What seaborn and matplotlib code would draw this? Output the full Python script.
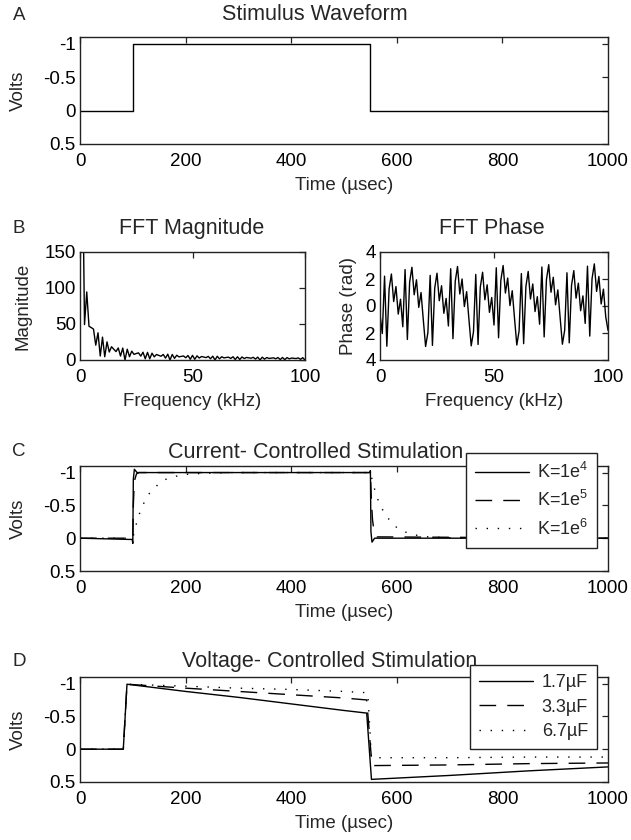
import numpy as np
import pandas as pd
import matplotlib
matplotlib.use("Agg")
import matplotlib.pyplot as plt
import seaborn as sns

# ---- data ----
# A: stimulus waveform (Volts vs usec)
stim_t = [0, 100, 100, 550, 550, 1000]
stim_v = [0, 0, -1, -1, 0, 0]

# B: FFT magnitude / phase, 1 kHz bins
freq_mag = list(range(1, 101))
fft_mag = [314.5, 49.2, 94.5, 46.8, 45.0, 42.9, 20.6, 37.8, 5.5, 31.8,
           4.5, 25.2, 11.1, 18.4, 15.0, 11.7, 16.7, 5.5, 16.6, 0.0,
           15.0, 4.5, 12.3, 7.8, 9.0, 9.9, 5.4, 10.8, 1.7, 10.6,
           1.6, 9.5, 4.4, 7.6, 6.4, 5.2, 7.7, 2.6, 8.1, 0.0,
           7.7, 2.3, 6.6, 4.3, 5.0, 5.6, 3.1, 6.3, 1.0, 6.4,
           1.0, 5.8, 2.7, 4.8, 4.1, 3.3, 5.0, 1.7, 5.3, 0.0,
           5.2, 1.6, 4.5, 2.9, 3.5, 3.9, 2.2, 4.5, 0.7, 4.5,
           0.7, 4.2, 2.0, 3.5, 3.0, 2.5, 3.7, 1.3, 4.0, 0.0,
           3.9, 1.2, 3.4, 2.2, 2.6, 3.0, 1.7, 3.4, 0.6, 3.5,
           0.5, 3.3, 1.6, 2.7, 2.4, 2.0, 2.9, 1.0, 3.2, 0.0]
freq_ph = list(range(0, 101))
fft_phase = [-0.6,
             -2.04, 2.21, -2.98, 1.27, 2.37, 0.33, 1.44, -0.60, 0.50, -1.54,
             2.70, -2.48, 1.77, 2.87, 0.83, 1.94, -0.10, 1.00, -1.04, -3.00,
             -1.98, 2.27, -2.92, 1.33, 2.43, 0.39, 1.50, -0.54, 0.56, -1.48,
             2.76, -2.42, 1.83, 2.93, 0.89, 2.00, -0.04, 1.06, -0.98, -2.95,
             -1.91, 2.34, -2.85, 1.40, 2.50, 0.46, 1.57, -0.47, 0.63, -1.41,
             2.83, -2.35, 1.90, 3.00, 0.96, 2.07, 0.03, 1.13, -0.91, -2.89,
             -1.85, 2.40, -2.79, 1.46, 2.56, 0.52, 1.63, -0.41, 0.69, -1.35,
             2.89, -2.29, 1.96, 3.06, 1.02, 2.13, 0.09, 1.19, -0.85, -2.83,
             -1.79, 2.46, -2.73, 1.52, 2.62, 0.58, 1.69, -0.35, 0.75, -1.29,
             2.95, -2.23, 2.02, 3.12, 1.08, 2.19, 0.15, 1.25, -0.79, -1.80]

# C: current controlled
k4_t = [0, 99, 100, 101, 103, 108, 549, 550, 551, 553, 558, 1000]
k4_v = [0, 0.02, 0.08, -0.9, -1.05, -1.0, -1.0, -1.03, -0.1, 0.06, 0.0, 0.0]
k5_t = [0, 100, 101, 102, 104, 107, 112, 550, 552, 554, 557, 562, 1000]
k5_v = [0, 0, -0.5, -0.7, -0.9, -0.98, -1.0, -1.0, -0.55, -0.28, -0.1, -0.02, 0]
k6_t = [0, 100, 105, 110, 115, 120, 130, 140, 150, 160, 175, 190, 210, 240, 280,
        550, 555, 560, 565, 570, 580, 590, 600, 610, 625, 640, 660, 690, 730, 1000]
k6_v = [0, 0, -0.17, -0.31, -0.43, -0.52, -0.67, -0.75, -0.84, -0.89, -0.93, -0.96, -0.98, -0.99, -1.0,
        -1.0, -0.83, -0.69, -0.57, -0.48, -0.33, -0.25, -0.16, -0.11, -0.07, -0.04, -0.02, -0.01, 0, 0]

# D: voltage controlled
c17_t = [0, 82, 89, 200, 300, 400, 500, 543, 552, 700, 850, 1000]
c17_v = [0, 0, -0.99, -0.88, -0.79, -0.69, -0.59, -0.55, 0.46, 0.40, 0.33, 0.27]
c33_t = [0, 82, 89, 200, 300, 400, 500, 543, 553, 700, 850, 1000]
c33_v = [0, 0, -0.99, -0.93, -0.88, -0.83, -0.78, -0.75, 0.25, 0.24, 0.22, 0.21]
c67_t = [0, 82, 89, 200, 300, 400, 500, 545, 552, 700, 850, 1000]
c67_v = [0, 0, -0.99, -0.96, -0.93, -0.91, -0.88, -0.86, 0.13, 0.13, 0.12, 0.12]

# ---- style ----
sns.set_theme(style="white")
plt.rcParams['font.family'] = ['Liberation Sans', 'DejaVu Sans']
plt.rcParams['axes.unicode_minus'] = False
plt.rcParams['mathtext.fontset'] = 'custom'
plt.rcParams['mathtext.rm'] = 'Liberation Sans'
plt.rcParams['mathtext.it'] = 'Liberation Sans'
FS = 13.5   # ticks, axis labels
TS = 15.5   # titles
LS = 13     # legend

W, H = 631, 840
fig = plt.figure(figsize=(W / 100, H / 100), dpi=100)


def box(l, t, r, b):
    return fig.add_axes([l / W, 1 - b / H, (r - l) / W, (b - t) / H])


def style_ax(ax):
    for s in ax.spines.values():
        s.set_color('#222222')
        s.set_linewidth(1.0)
    ax.tick_params(direction='in', top=True, right=True, length=4, width=0.9,
                   labelsize=FS, colors='#222222', labelcolor='black')
    ax.tick_params(axis='x', pad=6.5)
    ax.tick_params(axis='y', pad=3)


def line(ax, t, v, ls='-'):
    sns.lineplot(x=t, y=v, ax=ax, color='black', lw=1.0, linestyle=ls,
                 estimator=None, sort=False)


def volts_axis(ax):
    ax.set_xlim(0, 1000)
    ax.set_ylim(0.5, -1.1)
    ax.set_xticks([0, 200, 400, 600, 800, 1000])
    ax.set_yticks([-1, -0.5, 0, 0.5])
    ax.set_yticklabels(['-1', '-0.5', '0', '0.5'])
    ax.set_xlabel('Time (\u00b5sec)', fontsize=FS, labelpad=5)
    ax.set_ylabel('Volts', fontsize=FS, labelpad=12)


DASH = (0, (12, 8))
DOT = (0, (1, 7))

# A
axA = box(80, 37, 608, 144)
line(axA, stim_t, stim_v)
volts_axis(axA)
style_ax(axA)

# B left
axB1 = box(80, 252, 305, 360)
line(axB1, freq_mag, fft_mag)
axB1.set_xlim(0, 100)
axB1.set_ylim(0, 150)
axB1.set_xticks([0, 50, 100])
axB1.set_yticks([0, 50, 100, 150])
axB1.set_xlabel('Frequency (kHz)', fontsize=FS, labelpad=5)
axB1.set_ylabel('Magnitude', fontsize=FS, labelpad=9)
style_ax(axB1)

# B right
axB2 = box(380, 252, 608, 360)
line(axB2, freq_ph, fft_phase)
axB2.set_xlim(0, 100)
axB2.set_ylim(-4, 4)
axB2.set_xticks([0, 50, 100])
axB2.set_yticks([-4, -2, 0, 2, 4])
axB2.set_yticklabels(['4', '2', '0', '2', '4'])
axB2.set_xlabel('Frequency (kHz)', fontsize=FS, labelpad=5)
axB2.set_ylabel('Phase (rad)', fontsize=FS, labelpad=6)
style_ax(axB2)

# C
axC = box(80, 466, 608, 571)
line(axC, k4_t, k4_v, '-')
line(axC, k5_t, k5_v, DASH)
line(axC, k6_t, k6_v, DOT)
volts_axis(axC)
style_ax(axC)
hC = [plt.Line2D([], [], color='black', lw=1.0, linestyle=s) for s in ['-', DASH, DOT]]
legC = fig.legend(hC, ['K=1e$^4$', 'K=1e$^5$', 'K=1e$^6$'], loc='upper right',
                  bbox_to_anchor=(597 / W, 1 - 453 / H), fontsize=LS, frameon=True,
                  fancybox=False, edgecolor='#222222', framealpha=1, handlelength=3.0,
                  labelspacing=0.45, borderpad=0.5, handletextpad=0.4, borderaxespad=0)
legC.get_frame().set_linewidth(1.0)

# D
axD = box(80, 677, 608, 782)
line(axD, c17_t, c17_v, '-')
line(axD, c33_t, c33_v, DASH)
line(axD, c67_t, c67_v, DOT)
volts_axis(axD)
style_ax(axD)
hD = [plt.Line2D([], [], color='black', lw=1.0, linestyle=s) for s in ['-', DASH, DOT]]
legD = fig.legend(hD, ['1.7\u00b5F', '3.3\u00b5F', '6.7\u00b5F'], loc='upper right',
                  bbox_to_anchor=(597 / W, 1 - 665 / H), fontsize=LS, frameon=True,
                  fancybox=False, edgecolor='#222222', framealpha=1, handlelength=3.0,
                  labelspacing=0.42, borderpad=0.5, handletextpad=0.5, borderaxespad=0)
legD.get_frame().set_linewidth(1.0)

# titles and panel letters
fig.text(315 / W, 1 - 15 / H, 'Stimulus Waveform', fontsize=TS, ha='center', va='center')
fig.text(192 / W, 1 - 229 / H, 'FFT Magnitude', fontsize=TS, ha='center', va='center')
fig.text(492 / W, 1 - 229 / H, 'FFT Phase', fontsize=TS, ha='center', va='center')
fig.text(316 / W, 1 - 452 / H, 'Current- Controlled Stimulation', fontsize=TS, ha='center', va='center')
fig.text(330 / W, 1 - 661 / H, 'Voltage- Controlled Stimulation', fontsize=TS, ha='center', va='center')
for lab, y in [('A', 15), ('B', 229), ('C', 452), ('D', 661)]:
    fig.text(19 / W, 1 - y / H, lab, fontsize=FS, ha='center', va='center')

fig.savefig('out.png', dpi=100, facecolor='white')
